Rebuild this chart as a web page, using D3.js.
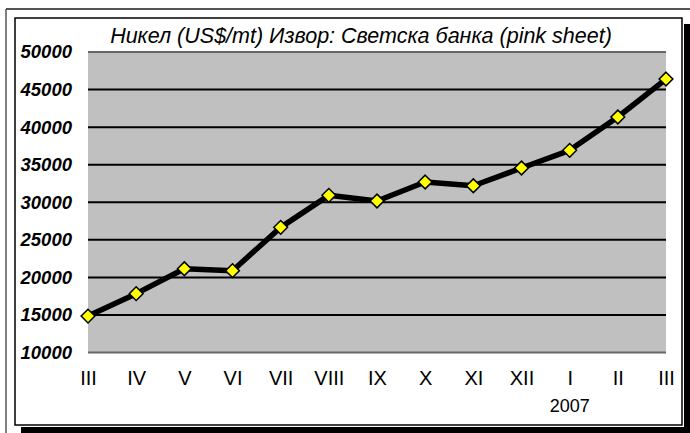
<!DOCTYPE html>
<html>
<head>
<meta charset="utf-8">
<script src="https://cdn.jsdelivr.net/npm/d3@7"></script>
<style>
  body { margin:0; background:#fff; }
  svg { display:block; font-family:"Liberation Sans", Arial, sans-serif; }
</style>
</head>
<body>
<div id="chart"></div>
<script>
// nickel price, monthly (March 2006 - March 2007)
const months = ["III","IV","V","VI","VII","VIII","IX","X","XI","XII","I","II","III "];
const prices = [14850, 17830, 21150, 20890, 26660, 30920, 30170, 32690, 32200, 34560, 36910, 41350, 46400];
const yTicks = [10000, 15000, 20000, 25000, 30000, 35000, 40000, 45000, 50000];
const title = "Никел (US$/mt)  Извор: Светска банка (pink sheet)";
const yearLabel = "2007";

const W = 690, H = 433;
const svg = d3.select("#chart").append("svg")
  .attr("width", W).attr("height", H);

// frame + shadow
svg.append("line").attr("x1",6).attr("x2",W).attr("y1",9).attr("y2",9)
  .attr("stroke","#555").attr("stroke-width",2);
svg.append("line").attr("x1",6).attr("x2",6).attr("y1",9).attr("y2",H)
  .attr("stroke","#555").attr("stroke-width",1.5);
svg.append("rect").attr("x",21).attr("y",24).attr("width",W-21).attr("height",H-24).attr("fill","#000");
svg.append("rect").attr("x",13).attr("y",16).attr("width",671).attr("height",411).attr("fill","#fff");
svg.append("rect").attr("x",15).attr("y",18).attr("width",667).attr("height",407)
  .attr("fill","#fff").attr("stroke","#000").attr("stroke-width",1.5);

const x = d3.scalePoint().domain(months).range([88, 666]);
const y = d3.scaleLinear().domain([10000, 50000]).range([352.5, 52]);

// plot area
svg.append("rect").attr("x",88).attr("y",y(50000)).attr("width",666-88)
  .attr("height",y(10000)-y(50000)).attr("fill","#c0c0c0");

svg.append("g").selectAll("line").data(yTicks).join("line")
  .attr("x1",88).attr("x2",666)
  .attr("y1",d=>y(d)).attr("y2",d=>y(d))
  .attr("stroke",d=>(d===10000||d===50000)?"#666":"#000")
  .attr("stroke-width",2);

// y labels
const yAxis = svg.append("g").attr("transform","translate(88,0)")
  .call(d3.axisLeft(y).tickValues(yTicks).tickSize(0).tickPadding(16).tickFormat(d3.format("d")));
yAxis.select(".domain").remove();
yAxis.selectAll("text").attr("font-size",18.5).attr("font-weight","bold")
  .attr("font-style","italic").attr("fill","#000")
  .attr("font-family","'Liberation Sans', Arial, sans-serif");

// x labels
const xAxis = svg.append("g").attr("transform","translate(0,352)")
  .call(d3.axisBottom(x).tickSize(0).tickPadding(19));
xAxis.select(".domain").remove();
xAxis.selectAll("text").attr("font-size",20).attr("fill","#000")
  .attr("font-family","'Liberation Sans', Arial, sans-serif");

svg.append("text").attr("x",x("I")).attr("y",412).attr("text-anchor","middle")
  .attr("font-size",18).text(yearLabel);

svg.append("text").attr("x",361).attr("y",43).attr("text-anchor","middle")
  .attr("font-size",21.5).attr("font-style","italic").text(title);

// line + markers
const line = d3.line().x((d,i)=>x(months[i])).y(d=>y(d));
svg.append("path").datum(prices).attr("d",line)
  .attr("fill","none").attr("stroke","#000").attr("stroke-width",5.5)
  .attr("stroke-linejoin","round");

svg.append("g").selectAll("path").data(prices).join("path")
  .attr("d", d3.symbol(d3.symbolDiamond2, 120))
  .attr("transform",(d,i)=>`translate(${x(months[i])},${y(d)})`)
  .attr("fill","#ffff00").attr("stroke","#000").attr("stroke-width",1.5);
</script>
</body>
</html>
